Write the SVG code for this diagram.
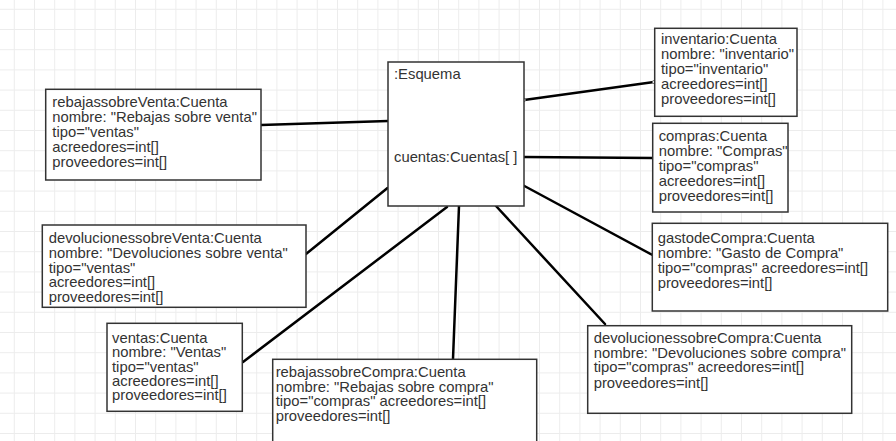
<svg xmlns="http://www.w3.org/2000/svg" width="896" height="441" viewBox="0 0 896 441">
<defs>
<pattern id="grid" patternUnits="userSpaceOnUse" x="13.8" y="8.8" width="20.2" height="20.2">
<path d="M0.5 0 V20.2 M0 0.5 H20.2" fill="none" stroke="#ececec" stroke-width="1"/>
</pattern>
<style>
.box{fill:#fff;stroke:#333;stroke-width:1.5}
.t{font-family:"Liberation Sans",Arial,sans-serif;font-size:14.8px;fill:#333}
.c{stroke:#000;stroke-width:2.5;fill:none;stroke-linecap:round}
.h{fill:#fff;stroke:#666;stroke-width:0.8}
</style>
</defs>
<rect width="896" height="441" fill="#fff"/>
<rect width="896" height="441" fill="url(#grid)"/>
<g id="connectors">
<line class="c" x1="261" y1="125" x2="388" y2="121"/>
<line class="c" x1="524" y1="100" x2="654" y2="82"/>
<line class="c" x1="524" y1="157" x2="653" y2="158"/>
<line class="c" x1="523.5" y1="185.5" x2="652.5" y2="255"/>
<line class="c" x1="496" y1="206" x2="605" y2="324"/>
<line class="c" x1="459" y1="206" x2="453" y2="359"/>
<line class="c" x1="447" y1="207" x2="243" y2="362"/>
<line class="c" x1="387.5" y1="188" x2="306" y2="254"/>
<circle class="h" cx="524" cy="100" r="1.6"/>
<circle class="h" cx="654" cy="82" r="1.6"/>
</g>
<g id="esquema">
<rect class="box" x="388" y="62" width="136" height="144"/>
<text class="t" x="394" y="79">:Esquema</text>
<text class="t" x="394" y="161.5">cuentas:Cuentas[ ]</text>
</g>
<g id="rebajassobreVenta">
<rect class="box" x="45.7" y="89.3" width="215.3" height="90.7"/>
<text class="t" x="52.3"><tspan x="52.3" y="106.5">rebajassobreVenta:Cuenta</tspan><tspan x="52.3" y="121.5">nombre: "Rebajas sobre venta"</tspan><tspan x="52.3" y="136.5">tipo="ventas"</tspan><tspan x="52.3" y="151.5">acreedores=int[]</tspan><tspan x="52.3" y="166.5">proveedores=int[]</tspan></text>
</g>
<g id="inventario">
<rect class="box" x="654.7" y="28.3" width="142.3" height="88"/>
<text class="t"><tspan x="661" y="43.5">inventario:Cuenta</tspan><tspan x="661" y="58.7">nombre: "inventario"</tspan><tspan x="661" y="73.9">tipo="inventario"</tspan><tspan x="661" y="89">acreedores=int[]</tspan><tspan x="661" y="104.2">proveedores=int[]</tspan></text>
</g>
<g id="compras">
<rect class="box" x="652.7" y="123.3" width="135.3" height="88.7"/>
<text class="t"><tspan x="658.7" y="140.7">compras:Cuenta</tspan><tspan x="658.7" y="155.7">nombre: "Compras"</tspan><tspan x="658.7" y="170.7">tipo="compras"</tspan><tspan x="658.7" y="185.7">acreedores=int[]</tspan><tspan x="658.7" y="200.7">proveedores=int[]</tspan></text>
</g>
<g id="gastodeCompra">
<rect class="box" x="652.3" y="223.3" width="235.4" height="87.7"/>
<text class="t"><tspan x="657.7" y="243.3">gastodeCompra:Cuenta</tspan><tspan x="657.7" y="258">nombre: "Gasto de Compra"</tspan><tspan x="657.7" y="272.8">tipo="compras" acreedores=int[]</tspan><tspan x="657.7" y="287.6">proveedores=int[]</tspan></text>
</g>
<g id="devolucionessobreCompra">
<rect class="box" x="587.7" y="325.7" width="264" height="87.6"/>
<text class="t"><tspan x="593.7" y="342.7">devolucionessobreCompra:Cuenta</tspan><tspan x="593.7" y="357.6">nombre: "Devoluciones sobre compra"</tspan><tspan x="593.7" y="372.4">tipo="compras" acreedores=int[]</tspan><tspan x="593.7" y="387.5">proveedores=int[]</tspan></text>
</g>
<g id="devolucionessobreVenta">
<rect class="box" x="42.3" y="225" width="263.7" height="82.3"/>
<text class="t"><tspan x="48.7" y="243">devolucionessobreVenta:Cuenta</tspan><tspan x="48.7" y="258">nombre: "Devoluciones sobre venta"</tspan><tspan x="48.7" y="272.5">tipo="ventas"</tspan><tspan x="48.7" y="287">acreedores=int[]</tspan><tspan x="48.7" y="302">proveedores=int[]</tspan></text>
</g>
<g id="ventas">
<rect class="box" x="107" y="323.3" width="135.3" height="88"/>
<text class="t"><tspan x="112" y="342.5">ventas:Cuenta</tspan><tspan x="112" y="357.2">nombre: "Ventas"</tspan><tspan x="112" y="371.6">tipo="ventas"</tspan><tspan x="112" y="386">acreedores=int[]</tspan><tspan x="112" y="400.4">proveedores=int[]</tspan></text>
</g>
<g id="rebajassobreCompra">
<rect class="box" x="272.7" y="359.3" width="264" height="100"/>
<text class="t"><tspan x="275.7" y="377">rebajassobreCompra:Cuenta</tspan><tspan x="275.7" y="391.6">nombre: "Rebajas sobre compra"</tspan><tspan x="275.7" y="406.4">tipo="compras" acreedores=int[]</tspan><tspan x="275.7" y="421">proveedores=int[]</tspan></text>
</g>
</svg>
